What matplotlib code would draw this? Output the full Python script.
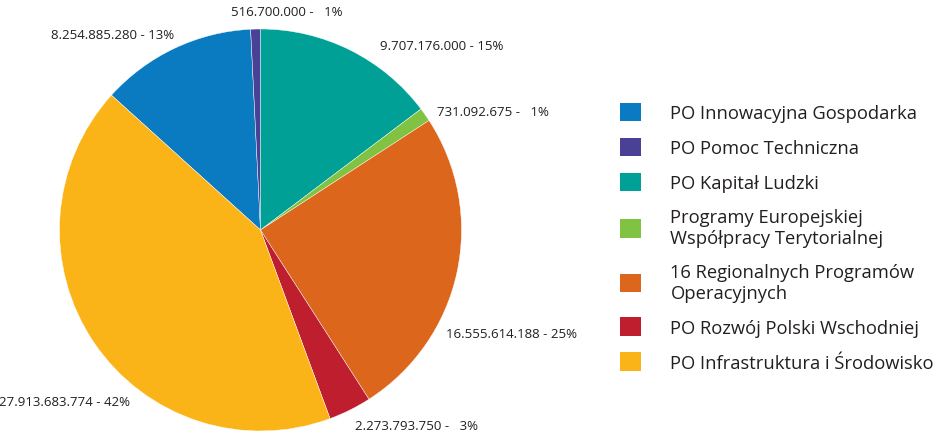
import matplotlib
matplotlib.use("Agg")
import matplotlib.pyplot as plt

plt.rcParams['font.family'] = ['Open Sans', 'DejaVu Sans']

# legend order (also the clockwise drawing order)
programs = ["PO Innowacyjna Gospodarka",
            "PO Pomoc Techniczna",
            "PO Kapitał Ludzki",
            "Programy Europejskiej\nWspółpracy Terytorialnej",
            "16 Regionalnych Programów\nOperacyjnych",
            "PO Rozwój Polski Wschodniej",
            "PO Infrastruktura i Środowisko"]
amounts = [8254885280, 516700000, 9707176000, 731092675,
           16555614188, 2273793750, 27913683774]
colors = ["#0a7bc1", "#4a4196", "#00a096", "#80c241",
          "#dd661d", "#be1e2d", "#fbb418"]

# label anchors (data units, pie radius = 1) and alignment
label_xy = [(-0.43, 0.975), (-0.147, 1.085), (0.595, 0.92), (0.878, 0.592),
            (0.923, -0.517), (0.47, -0.975), (-0.649, -0.851)]
label_ha = ["right", "left", "left", "left", "left", "left", "right"]

total = sum(amounts)

def fmt(v):
    pct = round(v / total * 100)
    s = f"{v:,}".replace(",", ".")
    if pct < 10:
        return s + " -   " + str(pct) + "%"
    return s + " - " + str(pct) + "%"

fig = plt.figure(figsize=(9.38, 4.39), dpi=100)
ax = fig.add_axes([59.5 / 938, 7 / 439, 402 / 938, 402 / 439])

# purple wedge ends at 12 o'clock
start = 90 + 360 * (amounts[0] + amounts[1]) / total
wedges, _ = ax.pie(amounts, colors=colors, startangle=start, counterclock=False,
                   radius=1, wedgeprops=dict(edgecolor="white", linewidth=0.3))
ax.set_xlim(-1, 1)
ax.set_ylim(-1, 1)
ax.set_aspect("equal")
ax.axis("off")

for v, (x, y), ha in zip(amounts, label_xy, label_ha):
    ax.text(x, y, fmt(v), ha=ha, va="center", fontsize=9.5, color="#231f20",
            clip_on=False)

leg = fig.legend(wedges, programs, loc="upper left",
                 bbox_to_anchor=(620 / 938, 1 - 104 / 439),
                 frameon=False, fontsize=13.2, borderpad=0, borderaxespad=0,
                 handlelength=1.15, handleheight=1.15, handletextpad=1.6,
                 labelspacing=0.86, labelcolor="#231f20")
for h in leg.legend_handles:
    h.set_edgecolor("none")

fig.savefig("out.png", dpi=100)
